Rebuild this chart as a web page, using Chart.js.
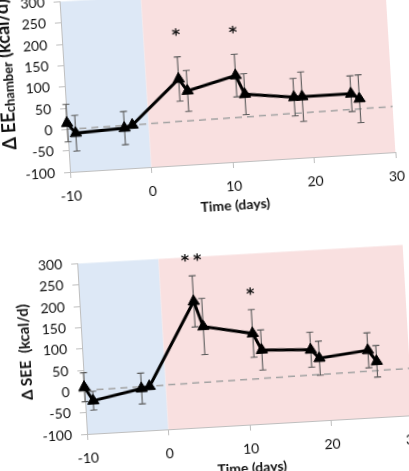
<!DOCTYPE html>
<html>
<head>
<meta charset="utf-8">
<script src="https://cdn.jsdelivr.net/npm/chart.js@4.4.1/dist/chart.umd.min.js"></script>
<style>
  html, body { margin: 0; padding: 0; background: #fff; }
  body { width: 409px; height: 471px; overflow: hidden; position: relative; }
  canvas { position: absolute; }
  /* the source is a slightly tilted photo of the figure */
  #eeChart { left: 0; top: -16px; transform-origin: 70px 188px; transform: rotate(-3.5deg); }
  #seeChart { left: 17px; top: 246px; transform-origin: 70px 188px; transform: rotate(-3.3deg); }
</style>
</head>
<body>
<canvas id="eeChart" width="420" height="240"></canvas>
<canvas id="seeChart" width="420" height="240"></canvas>
<script>
// 測定日 (days)
const days = [-10, -9, -3, -2, 4, 5, 11, 12, 18, 19, 25, 26];

// Δ EE chamber (kcal/d) と誤差
const eeChamber    = [15, -10, -5, 1, 102, 73, 102, 57, 43, 43, 43, 30];
const eeChamberErr = [44, 42, 39, 0, 52, 48, 50, 48, 44, 58, 42, 56];
const eeStars      = ['', '', '', '', '*', '', '*', '', '', '', '', ''];

// Δ SEE (kcal/d) と誤差
const see    = [10, -23, -1, 3, 196, 136, 113, 73, 67, 46, 58, 31];
const seeErr = [34, 22, 36, 0, 60, 66, 56, 47, 41, 40, 41, 37];
const seeStars = ['', '', '', '', '**', '', '*', '', '', '', '', ''];

// 破線の基準線
const refDays = [-10, 30];
const eeRef = [0, 7];
const seeRef = [2, 10];

// 期間の区切り (前 / 後)
const phaseEdges = [-10, 0, 30];
const phaseColors = ['#dde8f6', '#f9e0e0'];

// axis ranges
const xMin = -10, xMax = 30, xStep = 10;
const yMin = -100, yMax = 300, yStep = 50;

const FONT = 'Lato';
const INK = '#111';
const AXIS = '#bfbfbf';

// 背景の塗り分け
const phasePlugin = {
  id: 'phases',
  beforeDraw(chart) {
    const { ctx, chartArea, scales: { x } } = chart;
    ctx.save();
    for (let i = 0; i < phaseEdges.length - 1; i++) {
      const x0 = x.getPixelForValue(phaseEdges[i]);
      const x1 = x.getPixelForValue(phaseEdges[i + 1]);
      ctx.fillStyle = phaseColors[i];
      ctx.fillRect(x0, chartArea.top, x1 - x0, chartArea.bottom - chartArea.top);
    }
    ctx.restore();
  }
};

// 誤差棒・有意差の印・縦軸タイトルはグラフごとに作る
function makeExtras(errs, stars, starGap, title) {
  return {
    id: 'extras',
    beforeDatasetDraw(chart, args) {
      if (args.index !== 1) return;
      const { ctx, scales: { x, y } } = chart;
      ctx.save();
      ctx.strokeStyle = '#5a5a5a';
      ctx.lineWidth = 1.1;
      chart.data.datasets[1].data.forEach((p, i) => {
        const e = errs[i];
        if (!e) return;
        const px = x.getPixelForValue(p.x);
        const top = y.getPixelForValue(p.y + e);
        const bot = y.getPixelForValue(p.y - e);
        ctx.beginPath();
        ctx.moveTo(px, top); ctx.lineTo(px, bot);
        ctx.moveTo(px - 3.5, top); ctx.lineTo(px + 3.5, top);
        ctx.moveTo(px - 3.5, bot); ctx.lineTo(px + 3.5, bot);
        ctx.stroke();
      });
      ctx.restore();
    },
    afterDatasetsDraw(chart) {
      const { ctx, scales: { x, y } } = chart;
      ctx.save();
      ctx.fillStyle = INK;
      ctx.font = 'bold 16px "DejaVu Sans"';
      ctx.textAlign = 'center';
      ctx.textBaseline = 'alphabetic';
      ctx.letterSpacing = '4px';
      chart.data.datasets[1].data.forEach((p, i) => {
        const s = stars[i];
        if (!s) return;
        const m = ctx.measureText(s);
        const cy = y.getPixelForValue(p.y + errs[i]) - starGap;
        ctx.fillText(s, x.getPixelForValue(p.x) + 2, cy + (m.actualBoundingBoxAscent - m.actualBoundingBoxDescent) / 2);
      });
      ctx.restore();
    },
    afterDraw(chart) {
      const { ctx, chartArea } = chart;
      const parts = title.parts;
      ctx.save();
      const widths = parts.map(p => { ctx.font = p.font; return ctx.measureText(p.text).width; });
      const total = widths.reduce((a, b) => a + b, 0);
      ctx.translate(title.x, (chartArea.top + chartArea.bottom) / 2 + title.dy);
      ctx.rotate(-Math.PI / 2);
      ctx.fillStyle = INK;
      ctx.textAlign = 'left';
      ctx.textBaseline = 'middle';
      let cx = -total / 2;
      parts.forEach((p, i) => {
        ctx.font = p.font;
        ctx.fillText(p.text, cx, p.shift);
        cx += widths[i];
      });
      ctx.restore();
    }
  };
}

function makeChart(id, values, errs, stars, ref, starGap, title) {
  const ctx = document.getElementById(id).getContext('2d');
  return new Chart(ctx, {
    type: 'line',
    data: {
      datasets: [
        {
          data: refDays.map((d, i) => ({ x: d, y: ref[i] })),
          borderColor: '#a3a3a3',
          borderWidth: 1.5,
          borderDash: [7, 5],
          pointRadius: 0,
          order: 2,
        },
        {
          data: days.map((d, i) => ({ x: d, y: values[i] })),
          borderColor: '#000',
          borderWidth: 3,
          pointStyle: 'triangle',
          pointRadius: 6.5,
          pointBackgroundColor: '#000',
          pointBorderColor: '#000',
          pointBorderWidth: 1,
          tension: 0,
          clip: false,
          order: 1,
        },
      ],
    },
    options: {
      responsive: false,
      animation: false,
      events: [],
      layout: { padding: { top: 17, right: 24, bottom: 0, left: 0 } },
      plugins: {
        legend: { display: false },
        tooltip: { enabled: false },
      },
      scales: {
        x: {
          type: 'linear',
          min: xMin, max: xMax,
          ticks: { stepSize: xStep, color: INK, font: { family: FONT, size: 14 }, padding: 10 },
          grid: { drawOnChartArea: false, tickLength: 6, color: AXIS },
          border: { color: AXIS },
          title: {
            display: true, text: 'Time (days)', color: INK,
            font: { family: FONT, size: 14, weight: 'bold' },
            padding: { top: 4, bottom: 0 },
          },
          afterFit(s) { s.height = 52; },
        },
        y: {
          min: yMin, max: yMax,
          ticks: { stepSize: yStep, color: INK, font: { family: FONT, size: 14 }, padding: 9 },
          grid: { drawOnChartArea: false, tickLength: 6, color: AXIS },
          border: { color: AXIS },
          afterFit(s) { s.width = 70; },
        },
      },
    },
    plugins: [phasePlugin, makeExtras(errs, stars, starGap, title)],
  });
}

makeChart('eeChart', eeChamber, eeChamberErr, eeStars, eeRef, 25, {
  x: 12, dy: -16,
  parts: [
    { text: 'Δ EE', font: 'bold 18px ' + FONT, shift: 0 },
    { text: 'chamber', font: 'bold 13px ' + FONT, shift: 3 },
    { text: ' (kcal/d)', font: 'bold 18px ' + FONT, shift: 0 },
  ],
});

makeChart('seeChart', see, seeErr, seeStars, seeRef, 18, {
  x: 13, dy: 0,
  parts: [
    { text: 'Δ SEE  (kcal/d)', font: 'bold 15px ' + FONT, shift: 0 },
  ],
});
</script>
</body>
</html>
